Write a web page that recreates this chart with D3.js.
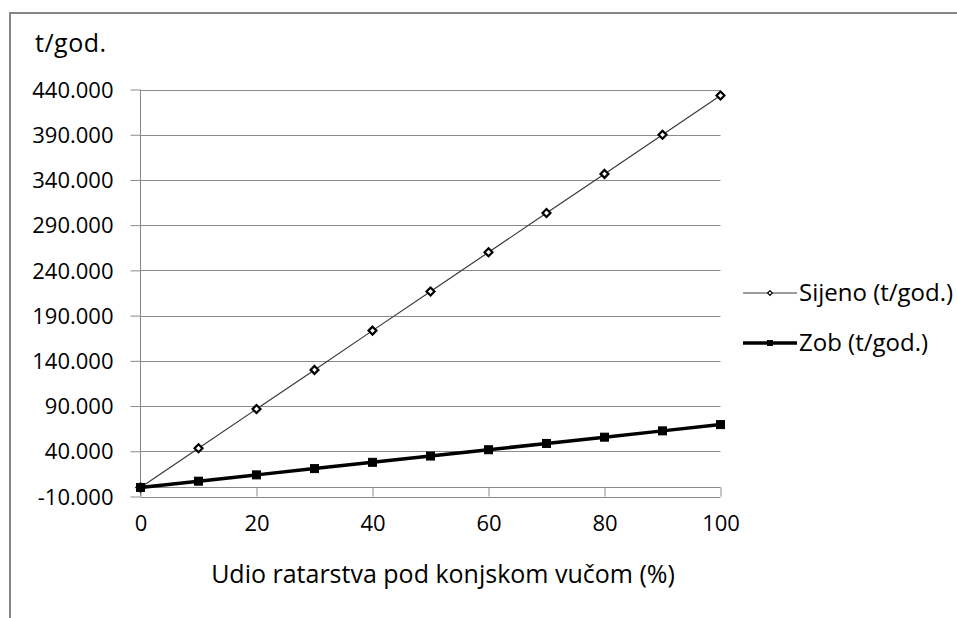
<!DOCTYPE html>
<html>
<head>
<meta charset="utf-8">
<script src="https://cdn.jsdelivr.net/npm/d3@7"></script>
<style>
  body { margin: 0; background: #fff; }
  text { font-family: "Open Sans", sans-serif; fill: #000; }
</style>
</head>
<body>
<script>
// udio ratarstva pod konjskom vučom (%)
var shares = [0, 10, 20, 30, 40, 50, 60, 70, 80, 90, 100];
// t/god.
var sijeno = [0, 43400, 86700, 130000, 173400, 216700, 260000, 303400, 346700, 390000, 433400];
var zob = [0, 6950, 13900, 20850, 27800, 34750, 41700, 48650, 55600, 62550, 69500];
var yTicks = [-10000, 40000, 90000, 140000, 190000, 240000, 290000, 340000, 390000, 440000];
var xTicks = [0, 20, 40, 60, 80, 100];
var seriesNames = ["Sijeno (t/god.)", "Zob (t/god.)"];

var width = 957, height = 618;
var svg = d3.select("body").append("svg")
    .attr("width", width).attr("height", height);

// outer chart frame (cut at right and bottom)
svg.append("line").attr("x1", 9).attr("x2", width).attr("y1", 13).attr("y2", 13)
    .attr("stroke", "#868686").attr("stroke-width", 2);
svg.append("line").attr("x1", 10).attr("x2", 10).attr("y1", 12).attr("y2", height)
    .attr("stroke", "#868686").attr("stroke-width", 2);

var x = d3.scaleLinear().domain([0, 100]).range([140.5, 720.5]);
var y = d3.scaleLinear().domain([-10000, 440000]).range([496.5, 89.5]);

// 440000 -> "440.000"
var fmt = d => d3.format(".3f")(d / 1000).replace("\u2212", "-");

// gridlines
svg.append("g").selectAll("line").data(yTicks).enter().append("line")
    .attr("x1", x(0)).attr("x2", x(100))
    .attr("y1", d => Math.round(y(d)) + 0.5).attr("y2", d => Math.round(y(d)) + 0.5)
    .attr("stroke", "#8a8a8a").attr("stroke-width", 1);

// y axis
var yAxis = svg.append("g")
    .attr("transform", "translate(" + x(0) + ",0)")
    .call(d3.axisLeft(y).tickValues(yTicks).tickSize(10).tickPadding(17).tickFormat(fmt));
yAxis.selectAll("text").style("font-size", "22px").attr("dy", "0.35em");
yAxis.selectAll("line,path").attr("stroke", "#8a8a8a");
yAxis.select(".domain").attr("d", "M0," + y(-10000) + "V" + y(440000));

// x axis crosses at 0, labels at bottom
var xAxis = svg.append("g")
    .attr("transform", "translate(0," + (Math.round(y(0)) + 0.5) + ")")
    .call(d3.axisBottom(x).tickValues(xTicks).tickSize(9).tickPadding(0).tickFormat(d3.format("d")));
xAxis.selectAll("line,path").attr("stroke", "#8a8a8a");
xAxis.select(".domain").attr("d", "M" + x(0) + ",0H" + x(100));
xAxis.selectAll("text").style("font-size", "22px")
    .attr("y", 0).attr("dy", "0.35em")
    .attr("transform", "translate(0," + (523 - y(0)) + ")");

// titles
svg.append("text").attr("x", 35).attr("y", 43).attr("dy", "0.35em")
    .style("font-size", "25px").style("letter-spacing", "0.5px").text("t/god.");
svg.append("text").attr("x", 443).attr("y", 574).attr("dy", "0.35em")
    .attr("text-anchor", "middle").style("font-size", "25px")
    .text("Udio ratarstva pod konjskom vučom (%)");

var line = d3.line().x((d, i) => x(shares[i])).y(d => y(d));

// Sijeno
svg.append("path").datum(sijeno).attr("d", line)
    .attr("fill", "none").attr("stroke", "#3a3a3a").attr("stroke-width", 1.2);
// Zob
svg.append("path").datum(zob).attr("d", line)
    .attr("fill", "none").attr("stroke", "#000").attr("stroke-width", 3.5);

var diamond = d3.symbol().type(d3.symbolDiamond2);
svg.append("g").selectAll("path").data(sijeno).enter().append("path")
    .attr("d", diamond.size(40)())
    .attr("transform", (d, i) => "translate(" + x(shares[i]) + "," + y(d) + ")")
    .attr("fill", "#fff").attr("stroke", "#000").attr("stroke-width", 2.2);
svg.append("g").selectAll("rect").data(zob).enter().append("rect")
    .attr("x", (d, i) => x(shares[i]) - 4).attr("y", d => y(d) - 4)
    .attr("width", 8).attr("height", 8)
    .attr("fill", "#000").attr("stroke", "#000").attr("stroke-width", 1);

// legend
var lg = svg.append("g");
var rows = [293, 343];
lg.append("line").attr("x1", 743).attr("x2", 797).attr("y1", rows[0]).attr("y2", rows[0])
    .attr("stroke", "#3a3a3a").attr("stroke-width", 1.2);
lg.append("path").attr("d", diamond.size(14)())
    .attr("transform", "translate(770," + rows[0] + ")")
    .attr("fill", "#fff").attr("stroke", "#000").attr("stroke-width", 1.2);
lg.append("line").attr("x1", 743).attr("x2", 797).attr("y1", rows[1]).attr("y2", rows[1])
    .attr("stroke", "#000").attr("stroke-width", 3.5);
lg.append("rect").attr("x", 767).attr("y", rows[1] - 3).attr("width", 6).attr("height", 6)
    .attr("fill", "#000");
lg.selectAll("text").data(seriesNames).enter().append("text")
    .attr("x", 799).attr("y", (d, i) => rows[i]).attr("dy", "0.35em")
    .style("font-size", "24px").text(d => d);
</script>
</body>
</html>
